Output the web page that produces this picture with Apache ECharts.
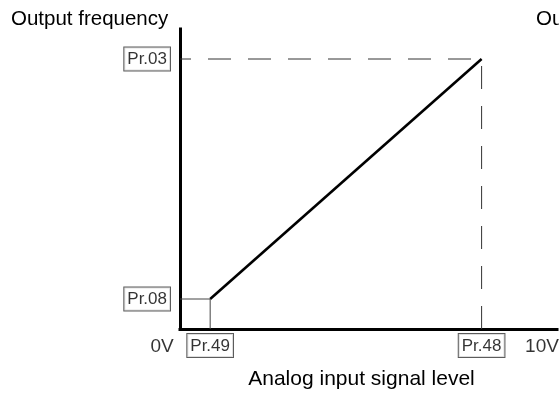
<!DOCTYPE html>
<html>
<head>
<meta charset="utf-8">
<script src="https://cdn.jsdelivr.net/npm/echarts@6/dist/echarts.min.js"></script>
<style>html,body{margin:0;padding:0;background:#fff;}#c{width:559px;height:395px;}</style>
</head>
<body>
<div id="c"></div>
<script>
// ---- data ----
const xParamNames = ['Pr.49', 'Pr.48'];
const xParamValues = [8, 80];
const yParamNames = ['Pr.08', 'Pr.03'];
const yParamValues = [10, 90];
const xEndNames = ['0V', '10V'];
const xEndValues = [0, 100];
const yAxisTitle = 'Output frequency';
const xAxisTitle = 'Analog input signal level';

const NARROW = '"Liberation Sans Narrow", "Arial Narrow", "Liberation Sans", Arial, sans-serif';
const SANS = '"Liberation Sans", Arial, sans-serif';

const boxLabel = {
  color: '#000', fontFamily: NARROW, fontSize: 17,
  borderColor: '#333', borderWidth: 1, padding: [4, 3, 2, 3], backgroundColor: '#fff'
};

const chart = echarts.init(document.getElementById('c'), null, {renderer: 'canvas'});
const guide = {color: '#444', width: 1};

chart.setOption({
  animation: false,
  title: [
    {text: yAxisTitle, left: 6, top: 4, textStyle: {fontFamily: SANS, fontSize: 20.5, fontWeight: 'normal', color: '#000'}},
    {text: yAxisTitle, left: 531, top: 4, textStyle: {fontFamily: SANS, fontSize: 20.5, fontWeight: 'normal', color: '#000'}}
  ],
  grid: {left: 180, right: 2, top: 29, bottom: 66},
  xAxis: {
    type: 'value', min: 0, max: 100,
    name: xAxisTitle, nameLocation: 'middle', nameGap: 40,
    nameTextStyle: {fontFamily: SANS, fontSize: 21, color: '#000', padding: [0, 14, 0, 0]},
    axisLine: {show: true, onZero: false, lineStyle: {color: '#000', width: 3, cap: 'square'}},
    axisTick: {show: false}, axisLabel: {show: false}, splitLine: {show: false}
  },
  yAxis: {
    type: 'value', min: 0, max: 100,
    axisLine: {show: true, onZero: false, lineStyle: {color: '#000', width: 3, cap: 'square'}},
    axisTick: {show: false}, axisLabel: {show: false}, splitLine: {show: false}
  },
  series: [
    { // characteristic line
      type: 'line', symbol: 'none', silent: true,
      data: [[xParamValues[0], yParamValues[0]], [xParamValues[1], yParamValues[1]]],
      lineStyle: {color: '#000', width: 2.6}
    },
    { // Pr.08 level guide
      type: 'line', symbol: 'none', silent: true,
      data: [[xEndValues[0], yParamValues[0]], [xParamValues[0], yParamValues[0]]],
      lineStyle: guide
    },
    { // Pr.49 guide
      type: 'line', symbol: 'none', silent: true,
      data: [[xParamValues[0], yParamValues[0]], [xParamValues[0], 0]],
      lineStyle: guide
    },
    { // Pr.03 dashed
      type: 'line', symbol: 'none', silent: true,
      data: [[xEndValues[0], yParamValues[1]], [xParamValues[1], yParamValues[1]]],
      lineStyle: {color: '#333', width: 1, type: [23, 17], dashOffset: 12}
    },
    { // Pr.48 dashed
      type: 'line', symbol: 'none', silent: true,
      data: [[xParamValues[1], 0], [xParamValues[1], yParamValues[1]]],
      lineStyle: {color: '#333', width: 1, type: [23, 17], dashOffset: 0}
    },
    { // x parameter labels
      type: 'scatter', symbolSize: 0, itemStyle: {color: '#000'}, silent: true,
      data: xParamNames.map((n, i) => ({value: [xParamValues[i], 0], name: n})),
      label: Object.assign({show: true, position: 'bottom', distance: 5, formatter: p => p.name}, boxLabel)
    },
    { // y parameter labels
      type: 'scatter', symbolSize: 0, itemStyle: {color: '#000'}, silent: true,
      data: yParamNames.map((n, i) => ({value: [0, yParamValues[i]], name: n})),
      label: Object.assign({show: true, position: 'left', distance: 10, formatter: p => p.name}, boxLabel)
    },
    { // 0V / 10V
      type: 'scatter', symbolSize: 0, itemStyle: {color: '#000'}, silent: true,
      data: [
        {value: [xEndValues[0], 0], name: xEndNames[0], label: {offset: [-18, 0]}},
        {value: [xEndValues[1], 0], name: xEndNames[1], label: {offset: [-15, 0]}}
      ],
      label: {show: true, position: 'bottom', distance: 8, formatter: p => p.name,
        color: '#000', fontFamily: NARROW, fontSize: 19}
    }
  ]
});
</script>
</body>
</html>
